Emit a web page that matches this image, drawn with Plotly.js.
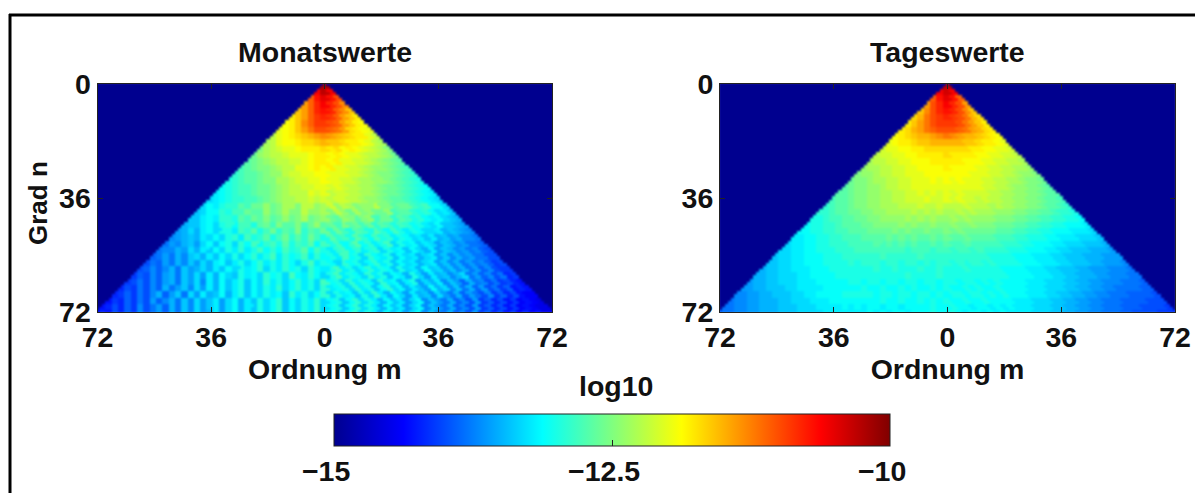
<!DOCTYPE html>
<html><head><meta charset="utf-8">
<script src="https://cdn.plot.ly/plotly-3.0.1.min.js"></script>
<style>html,body{margin:0;padding:0;background:#fff}#c{width:1195px;height:493px}.hm image{filter:blur(1.2px)}</style>
</head><body><div id="c"></div>
<script>
// Each row is one degree band n = 0,2,4,...,72, read left to right from m=-n to m=+n; values are log10 x -10.
const monatswerte = [
[102],
[106,103,106],
[111,107,105,107,110],
[114,111,108,106,108,110,113],
[116,114,111,108,107,108,111,113,116],
[118,116,114,111,109,108,109,111,114,116,118],
[119,118,116,113,111,109,109,110,111,114,116,118,119],
[120,119,118,116,114,112,110,110,111,112,114,117,118,119,120],
[122,120,119,118,117,116,115,114,113,114,115,116,117,118,118,120,122],
[123,122,120,119,119,118,117,117,116,115,116,116,117,118,118,119,120,122,123],
[125,123,122,121,120,120,119,118,118,118,117,118,117,119,118,119,120,121,122,123,125],
[126,124,123,122,122,121,120,120,120,119,118,118,119,118,119,120,120,121,122,122,123,124,126],
[127,126,125,124,123,122,122,121,121,120,119,118,118,119,118,120,120,121,121,122,123,124,125,126,127],
[128,127,126,125,125,124,123,122,122,120,120,119,118,119,118,120,120,121,121,122,123,124,124,125,126,127,128],
[129,128,127,127,126,125,124,124,122,121,121,120,120,119,119,120,120,120,121,121,122,123,124,125,125,126,127,128,129],
[130,129,128,127,127,126,125,125,123,123,122,121,121,120,120,119,120,120,121,121,122,123,123,124,124,125,126,127,128,129,130],
[131,130,129,128,128,127,126,126,125,124,123,122,122,121,121,120,120,121,120,121,122,122,123,123,124,125,126,126,127,128,129,130,131],
[132,131,130,129,128,128,127,126,126,125,124,123,122,122,122,120,121,120,122,121,121,122,122,123,123,124,125,126,126,127,128,129,130,131,132],
[133,132,131,130,129,129,128,128,127,126,125,124,123,123,122,122,121,122,121,122,121,121,122,122,123,124,124,125,126,127,127,128,129,130,131,132,133],
[133,131,132,130,129,129,127,128,126,126,124,126,125,123,123,125,122,122,124,123,121,124,122,123,125,124,124,122,125,125,127,126,126,128,129,128,131,131,133],
[134,133,131,131,129,130,128,128,126,127,127,124,126,125,123,125,125,122,124,124,123,125,122,124,126,123,125,124,126,126,124,128,127,127,129,130,129,131,133,132,134],
[134,134,132,131,132,129,129,130,127,128,126,127,125,127,126,124,126,125,123,126,125,124,126,127,124,125,127,125,124,128,126,126,129,127,128,130,129,131,132,131,133,134,135],
[135,134,134,132,131,133,130,129,131,128,128,130,127,126,128,125,127,127,125,128,126,124,127,126,128,125,127,126,128,126,129,127,128,130,128,129,131,130,132,133,131,134,134,135,136],
[136,135,133,135,132,131,133,130,130,132,128,129,127,130,128,126,129,127,128,125,129,127,128,126,129,126,128,130,127,128,130,127,129,131,128,130,132,130,131,133,133,132,135,134,135,136,137],
[137,136,135,134,135,132,133,131,133,130,129,132,128,130,129,127,130,128,126,129,127,129,126,128,130,127,129,128,130,127,129,131,128,130,129,132,130,131,133,132,134,132,135,134,136,135,137,137,138],
[138,136,137,135,134,136,133,131,134,131,130,133,129,131,128,131,129,128,130,127,130,128,129,127,131,128,130,128,131,129,127,131,129,132,130,128,133,130,132,131,134,132,133,136,134,135,137,136,138,138,139],
[138,137,137,135,136,133,135,132,134,131,133,130,132,129,132,130,128,131,129,131,128,130,129,127,131,128,130,132,129,128,131,129,132,130,129,133,130,132,131,134,131,133,135,132,136,134,135,137,136,138,137,139,140],
[139,138,136,138,135,137,134,133,135,132,134,131,133,130,133,131,129,132,130,128,132,129,131,130,128,132,129,131,130,132,128,131,130,133,129,131,132,130,134,131,133,132,135,133,132,136,134,137,135,137,136,138,138,140,140],
[140,138,139,136,138,135,137,134,136,133,135,132,131,134,132,130,133,131,129,132,130,132,129,131,133,130,128,132,130,131,133,129,131,130,133,131,129,132,130,134,131,133,132,135,133,132,136,134,137,135,138,136,138,137,139,141,140],
[140,139,137,139,137,135,138,134,136,135,133,135,132,134,131,133,130,132,131,129,133,130,132,129,131,130,133,129,131,132,130,128,132,130,133,131,129,132,130,131,134,130,133,132,135,131,134,133,136,134,137,135,138,136,139,137,140,141,141],
[141,139,140,137,139,136,135,138,134,136,133,136,132,135,131,133,134,130,132,131,133,129,131,130,133,128,131,132,129,131,133,130,128,132,130,131,133,129,132,130,134,131,132,135,130,133,136,132,135,134,137,135,133,138,136,139,137,140,138,142,141],
[141,140,138,140,137,139,136,135,138,134,136,133,137,132,135,131,134,132,130,134,131,133,129,132,130,133,131,129,132,130,133,128,131,130,133,129,132,130,131,134,129,132,131,135,132,130,136,133,135,132,137,134,136,139,135,138,137,140,138,141,140,142,143],
[142,140,141,138,140,137,139,135,138,136,134,137,133,136,132,135,131,134,132,130,134,131,133,130,132,129,133,131,129,132,130,133,129,132,131,130,133,129,132,130,134,131,129,133,131,135,132,134,136,131,135,133,137,134,138,135,139,136,140,138,141,139,143,142,143],
[142,141,139,141,138,140,137,135,139,136,134,138,133,136,132,135,134,131,135,132,130,134,131,133,130,132,131,134,129,132,130,133,131,129,133,130,132,131,134,130,133,129,132,135,131,133,136,132,135,134,137,133,136,138,135,139,136,138,140,137,141,139,142,140,143,144,144],
[143,141,142,139,141,138,140,136,139,137,135,138,134,137,133,136,134,132,136,133,131,135,132,134,130,133,131,129,134,131,133,130,132,129,133,131,130,134,131,129,133,130,132,135,131,134,132,136,133,131,137,134,136,138,135,139,137,140,136,141,139,142,140,143,141,144,143,144,145],
[143,142,140,142,139,141,137,140,138,136,139,135,138,134,137,133,136,134,132,136,133,131,135,132,134,130,133,131,129,134,131,133,130,132,129,133,131,130,134,131,129,133,130,132,135,131,134,132,136,133,131,137,134,136,138,135,139,137,140,136,141,139,142,140,143,141,144,143,144,145,145],
[144,142,143,140,142,139,141,137,140,138,136,139,135,138,134,137,133,136,135,132,136,133,131,135,132,134,130,133,131,129,134,131,133,130,132,129,133,131,130,134,131,129,133,130,132,135,131,134,132,136,133,131,137,134,136,138,135,139,137,140,136,141,139,142,140,143,141,144,142,144,143,145,145]
];
const tageswerte = [
[103],
[106,104,106],
[111,107,105,107,111],
[114,110,108,106,108,110,114],
[116,113,110,108,107,108,110,113,116],
[117,115,112,110,109,108,109,110,112,115,117],
[118,116,114,112,110,109,109,109,110,112,114,116,118],
[118,117,115,114,112,111,110,110,110,111,112,114,115,117,118],
[119,118,117,116,115,115,114,113,112,113,114,115,115,116,117,118,119],
[120,119,118,118,117,116,116,115,115,115,115,115,116,116,117,118,118,119,120],
[121,120,120,119,119,118,118,117,117,117,117,117,117,117,118,118,119,119,120,120,121],
[122,121,121,120,120,119,119,118,118,118,118,117,118,118,118,118,119,119,120,120,121,121,122],
[123,122,122,121,121,120,120,119,119,119,118,118,118,118,118,119,119,119,120,120,121,121,122,122,123],
[124,123,123,122,122,121,121,120,120,119,119,119,119,118,119,119,119,119,120,120,121,121,122,122,123,123,124],
[125,124,124,123,122,122,121,121,120,120,120,119,119,119,119,119,119,119,120,120,120,121,121,122,122,123,124,124,125],
[126,125,125,124,123,123,122,122,121,121,120,120,120,119,120,119,120,119,120,120,120,121,121,122,122,123,123,124,125,125,126],
[127,126,125,125,124,124,123,122,122,121,121,120,120,120,120,120,120,120,120,120,120,120,121,121,122,122,123,124,124,125,125,126,127],
[127,127,126,125,125,124,124,123,123,122,122,121,121,120,121,120,121,120,121,120,121,121,121,121,122,122,123,123,124,124,125,125,126,127,127],
[128,127,127,126,125,125,124,124,123,123,122,122,121,121,121,120,121,121,120,121,120,121,121,122,121,122,122,123,123,124,124,125,125,126,127,127,128],
[129,128,127,127,126,125,125,124,124,123,123,123,122,122,122,121,122,122,121,122,122,122,121,122,122,122,123,122,123,123,124,124,125,125,126,127,127,128,129],
[129,129,128,127,127,126,126,125,125,124,124,123,123,123,123,122,123,122,123,122,123,123,122,123,122,123,123,123,124,124,124,125,125,126,126,127,127,128,129,129,130],
[130,130,129,128,128,127,127,126,126,125,125,124,124,124,124,123,124,123,124,123,124,124,123,124,123,124,124,124,124,125,125,125,126,126,127,127,128,128,129,129,130,130,131],
[131,130,130,129,129,128,127,127,127,126,126,125,125,125,125,124,125,124,125,125,124,125,125,124,125,125,124,125,125,125,126,126,126,127,127,128,128,129,129,130,130,131,131,131,132],
[131,131,130,130,129,129,128,128,127,127,127,126,126,126,126,125,126,125,126,126,125,126,126,125,126,125,126,126,126,126,126,127,127,127,128,128,129,129,130,130,131,131,131,132,132,132,133],
[132,132,131,131,130,130,129,129,128,128,128,127,127,127,127,126,127,126,127,126,127,127,126,127,126,127,127,126,127,127,127,127,128,128,128,129,129,130,130,130,131,131,132,132,132,133,133,133,134],
[133,132,132,131,131,130,130,129,129,129,128,128,128,128,127,128,127,128,127,128,127,128,128,127,128,127,128,128,127,128,128,128,128,128,129,129,129,130,130,131,131,131,132,132,133,133,133,134,134,134,135],
[133,133,132,132,131,131,130,130,130,129,129,129,128,128,128,128,128,128,128,128,129,128,128,128,129,128,128,129,128,128,129,128,129,129,129,129,130,130,130,131,131,131,132,132,133,133,134,134,134,135,135,135,136],
[134,133,133,132,132,131,131,131,130,130,130,129,129,129,129,129,129,128,129,129,129,129,129,128,129,129,129,129,129,129,129,129,129,129,130,130,130,130,131,131,131,132,132,132,133,133,134,134,134,135,135,135,136,136,136],
[134,134,133,133,132,132,131,131,131,130,130,130,130,129,130,129,129,129,130,129,129,130,129,129,130,129,130,129,129,130,129,130,129,129,130,129,130,130,130,130,131,131,131,132,132,132,133,133,134,134,134,135,135,136,136,136,137],
[135,134,134,133,133,132,132,132,131,131,131,130,130,130,130,130,130,130,129,130,130,129,130,130,130,129,130,130,129,130,130,130,129,130,130,130,130,130,131,131,131,131,132,132,132,133,133,134,134,134,135,135,136,136,136,137,137,137,138],
[135,135,134,134,133,133,133,132,132,131,131,131,131,130,130,130,130,130,130,130,130,130,130,130,129,130,130,130,130,129,130,130,130,130,130,130,130,130,130,130,131,131,131,131,132,132,132,133,133,134,134,135,135,135,136,136,137,137,137,138,138],
[136,135,135,134,134,133,133,133,132,132,132,131,131,131,131,131,130,130,131,130,130,131,130,130,131,130,130,131,130,130,131,130,130,131,130,130,131,130,131,130,131,131,131,131,132,132,132,133,133,133,134,134,135,135,136,136,137,137,137,138,138,138,139],
[136,136,135,135,134,134,134,133,133,132,132,132,132,131,131,131,131,131,131,130,131,131,130,131,131,130,131,130,131,131,130,131,130,131,131,130,131,130,131,131,130,131,131,131,131,132,132,132,133,133,133,134,134,135,135,136,136,137,137,138,138,138,138,139,139],
[137,137,136,136,135,135,134,134,134,133,133,132,132,131,131,131,131,130,130,130,130,130,131,130,130,131,130,130,131,130,130,131,130,131,130,130,131,130,130,131,130,131,130,131,131,131,132,132,132,133,133,134,134,135,135,136,136,137,137,138,138,138,139,139,139,139,140],
[138,137,137,136,136,135,135,135,134,134,133,133,133,132,132,132,131,131,131,131,131,131,131,131,130,131,131,130,131,131,130,131,130,131,130,131,131,130,131,131,130,131,131,131,131,132,132,132,133,133,133,134,134,135,135,136,136,137,137,138,138,138,139,139,139,139,140,140,140],
[138,138,137,137,136,136,135,135,135,134,134,134,133,133,133,132,132,132,132,131,132,131,132,131,131,132,131,131,132,131,131,131,131,130,131,131,130,131,131,132,131,131,132,131,132,131,132,132,132,133,133,133,134,134,135,135,136,136,137,137,138,138,138,139,139,139,140,140,140,140,141],
[139,138,138,137,137,136,136,135,135,135,134,134,134,133,133,133,133,132,132,132,132,132,132,132,131,132,131,132,131,131,132,131,131,131,130,131,131,130,131,132,131,131,132,131,132,131,132,132,132,132,133,133,133,134,134,135,135,136,136,137,137,138,138,138,139,139,140,140,140,140,141,141,141]
];
const ordnungTicks = [-72,-36,0,36,72];
const ordnungLabels = ['72','36','0','36','72'];
const gradTicks = [0,36,72];
const gradLabels = ['0','36','72'];
const emptyValue = -15;
const jetStops = [[0,'#00008f'],[0.125,'#0000ff'],[0.375,'#00ffff'],[0.625,'#ffff00'],[0.875,'#ff0000'],[1,'#800000']];
const barTicks = [-15,-12.5,-10];
const barLabels = ['\u221215\u00a0\u00a0','\u221212.5\u00a0\u00a0','\u221210\u00a0\u00a0'];

const degrees = Array.from({length:73},(_,i)=>i);
const orders = Array.from({length:145},(_,i)=>i-72);
function grid(rows){
  return degrees.map(n=>{
    const row = rows[Math.floor(n/2)];
    return orders.map(m=>{
      if(Math.abs(m)>n) return emptyValue;
      const f = n===0?0:(m+n)/(2*n);
      return -row[Math.round(f*(row.length-1))]/10;
    });
  });
}
const W=1195,H=493;
const fx=p=>p/W, fy=p=>1-p/H;
const family='"Liberation Sans",Arial,sans-serif';
const bold={family:family,size:28.5,color:'#111',weight:700};
function xax(a,b,extra){return Object.assign({domain:[fx(a),fx(b)],range:[-72,72],tickmode:'array',tickvals:ordnungTicks,ticktext:ordnungLabels,ticks:'inside',ticklen:5,tickcolor:'#222',showline:true,mirror:'ticks',linecolor:'#222',linewidth:1,showgrid:false,zeroline:false,tickfont:bold,title:{text:'Ordnung m',font:bold,standoff:4}},extra||{});}
function yax(extra){return Object.assign({domain:[fy(312),fy(84)],range:[72,0],tickmode:'array',tickvals:gradTicks,ticktext:gradLabels,ticks:'inside',ticklen:5,tickcolor:'#222',showline:true,mirror:'ticks',linecolor:'#222',linewidth:1,showgrid:false,zeroline:false,tickfont:bold},extra||{});}
const ann=(t,x,y,extra)=>Object.assign({text:t,xref:'paper',yref:'paper',x:fx(x),y:fy(y),xanchor:'center',yanchor:'middle',showarrow:false,font:bold},extra||{});
const traces=[
 {type:'heatmap',x:orders,y:degrees,z:grid(monatswerte),coloraxis:'coloraxis',xaxis:'x',yaxis:'y',hoverinfo:'skip'},
 {type:'heatmap',x:orders,y:degrees,z:grid(tageswerte),coloraxis:'coloraxis',xaxis:'x2',yaxis:'y2',hoverinfo:'skip'}
];
const layout={
 width:W,height:H,margin:{l:0,r:0,t:0,b:0,autoexpand:false},paper_bgcolor:'#fff',plot_bgcolor:'#fff',showlegend:false,
 xaxis:xax(97.5,552),
 yaxis:yax(),
 xaxis2:xax(720,1175,{anchor:'y2'}),
 yaxis2:yax({anchor:'x2'}),
 coloraxis:{cmin:-15,cmax:-10,colorscale:jetStops,colorbar:{orientation:'h',lenmode:'pixels',len:556,thicknessmode:'pixels',thickness:32,xref:'paper',yref:'paper',x:fx(334),xanchor:'left',y:fy(414),yanchor:'top',xpad:0,ypad:0,tickmode:'array',tickvals:barTicks,ticktext:barLabels,ticks:'inside',ticklen:6,tickcolor:'#222',outlinecolor:'#222',outlinewidth:1,tickfont:bold}},
 annotations:[ann('Monatswerte',324.5,52),ann('Tageswerte',947.5,52),ann('log10',616,386),ann('Grad n',38,203,{textangle:-90,font:Object.assign({},bold,{size:26})})],
 shapes:[
  {type:'line',xref:'paper',yref:'paper',x0:fx(10),x1:fx(10),y0:fy(14),y1:0,line:{color:'#000',width:3}},
  {type:'line',xref:'paper',yref:'paper',x0:fx(9),x1:1,y0:fy(15),y1:fy(15),line:{color:'#000',width:3}}
 ]
};
Plotly.newPlot('c',traces,layout,{displayModeBar:false,staticPlot:true});
</script></body></html>
